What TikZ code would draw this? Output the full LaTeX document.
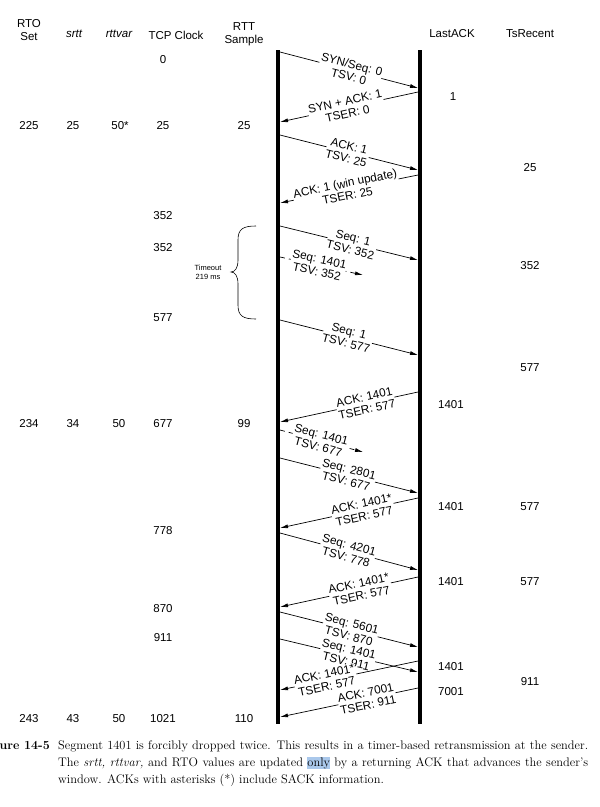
\documentclass[tikz,border=0pt]{standalone}
\usepackage{fontspec}
\newfontfamily\arial{Liberation Sans}
\usetikzlibrary{arrows.meta}
\definecolor{hl}{RGB}{170,200,235}
\begin{document}
\begin{tikzpicture}[x=1pt,y=-1pt,
  every node/.style={inner sep=0pt},
  hdr/.style={font=\arial\fontsize{11.5}{13.5}\selectfont, align=center},
  hdri/.style={font=\arial\itshape\fontsize{11.5}{13.5}\selectfont, align=center},
  num/.style={font=\arial\fontsize{11.5}{13.5}\selectfont},
  lab/.style={font=\arial\fontsize{11.8}{12.6}\selectfont, align=center, fill=white, inner sep=0.6pt, sloped},
  msg/.style={line width=0.7pt, -{Latex[length=8pt,width=4pt]}},
  drop/.style={msg, dash pattern=on 5pt off 4pt},
  vline/.style={line width=4pt},
  capt/.style={font=\fontsize{12.4}{14}\selectfont, anchor=base west},
  small/.style={font=\arial\fontsize{7.5}{9}\selectfont, align=center},
]
\useasboundingbox (0,0) rectangle (600,807);

% headers
\node[hdr]  (hRTO)  at (29,30)  {RTO\\Set};
\node[hdri] (hsrtt) at (74,34)  {srtt};
\node[hdri] (hvar)  at (119,34) {rttvar};
\node[hdr]  (hclk)  at (176,35) {TCP Clock};
\node[hdr]  (hrtt)  at (244,34) {RTT\\Sample};
\node[hdr]  (hlast) at (452,34) {LastACK};
\node[hdr]  (hts)   at (530,34) {TsRecent};

% column values
\foreach \x/\y/\t/\n in {
  29/126/225/rto1, 29/424/234/rto2, 29/719/243/rto3,
  73/126/25/sr1, 73/424/34/sr2, 73/719/43/sr3,
  120/126/50*/rv1, 119/424/50/rv2, 119/719/50/rv3,
  163/60/0/ck1, 163/126/25/ck2, 163/216/352/ck3, 163/248/352/ck4, 163/318/577/ck5,
  163/424/677/ck6, 163/531/778/ck7, 163/609/870/ck8, 163/638/911/ck9, 163/719/1021/ck10,
  244/126/25/rs1, 244/424/99/rs2, 244/719/110/rs3,
  453/97/1/la1, 451/405/1401/la2, 451/507/1401/la3, 451/582/1401/la4, 451/667/1401/la5, 451/692/7001/la6,
  530/168/25/ts1, 530/266/352/ts2, 530/368/577/ts3, 530/507/577/ts4, 530/582/577/ts5, 530/682/911/ts6}
  \node[num] (\n) at (\x,\y) {\t};

% time lines
\coordinate (lt) at (278,50);  \coordinate (lb) at (278,724);
\coordinate (rt) at (420,50);  \coordinate (rb) at (420,724);
\draw[vline] (lt) -- (lb);
\draw[vline] (rt) -- (rb);

% message end points
\coordinate (a1) at (280,52);  \coordinate (b1) at (418,88);
\coordinate (a2) at (418,92);  \coordinate (b2) at (280,122);
\coordinate (a3) at (280,135); \coordinate (b3) at (418,170);
\coordinate (a4) at (418,175); \coordinate (b4) at (280,203);
\coordinate (a5) at (280,226); \coordinate (b5) at (418,260);
\coordinate (a6) at (280,257); \coordinate (b6) at (363,275);
\coordinate (a7) at (280,320); \coordinate (b7) at (418,355);
\coordinate (a8) at (418,392); \coordinate (b8) at (280,422);
\coordinate (a9) at (280,430); \coordinate (b9) at (363,452);
\coordinate (a10) at (280,458); \coordinate (b10) at (418,493);
\coordinate (a11) at (418,498); \coordinate (b11) at (280,528);
\coordinate (a12) at (280,533); \coordinate (b12) at (418,570);
\coordinate (a13) at (418,577); \coordinate (b13) at (280,607);
\coordinate (a14) at (280,612); \coordinate (b14) at (418,647);
\coordinate (a15) at (280,639); \coordinate (b15) at (418,672);
\coordinate (a16) at (418,661); \coordinate (b16) at (280,690);
\coordinate (a17) at (418,688); \coordinate (b17) at (280,717);

% messages
\draw[msg] (a1) -- node[lab,pos=.51] (l1) {SYN/Seq: 0\\TSV: 0} (b1);
\draw[msg] (a2) -- node[lab,pos=.52] (l2) {SYN + ACK: 1\\TSER: 0} (b2);
\draw[msg] (a3) -- node[lab,pos=.49] (l3) {ACK: 1\\TSV: 25} (b3);
\draw[msg] (a4) -- node[lab,pos=.52] (l4) {ACK: 1 (win update)\\TSER: 25} (b4);
\draw[msg] (a5) -- node[lab,pos=.52] (l5) {Seq: 1\\TSV: 352} (b5);
\draw[drop] (a6) -- node[lab,pos=.46] (l6) {Seq: 1401\\TSV: 352} (b6);
\draw[msg] (a7) -- node[lab,pos=.49] (l7) {Seq: 1\\TSV: 577} (b7);
\draw[msg] (a8) -- node[lab,pos=.38] (l8) {ACK: 1401\\TSER: 577} (b8);
\draw[drop] (a9) -- node[lab,pos=.48] (l9) {Seq: 1401\\TSV: 677} (b9);
\draw[msg] (a10) -- node[lab,pos=.49] (l10) {Seq: 2801\\TSV: 677} (b10);
\draw[msg] (a11) -- node[lab,pos=.40] (l11) {ACK: 1401*\\TSER: 577} (b11);
\draw[msg] (a12) -- node[lab,pos=.49] (l12) {Seq: 4201\\TSV: 778} (b12);
\draw[msg] (a13) -- node[lab,pos=.42] (l13) {ACK: 1401*\\TSER: 577} (b13);
\draw[msg] (a14) -- node[lab,pos=.51] (l14) {Seq: 5601\\TSV: 870} (b14);
\draw[msg] (a15) -- node[lab,pos=.49] (l15) {Seq: 1401\\TSV: 911} (b15);
\draw[msg] (a16) -- node[lab,pos=.67] (l16) {ACK: 1401*\\TSER: 577} (b16);
\draw[msg] (a17) -- node[lab,pos=.37] (l17) {ACK: 7001\\TSER: 911} (b17);

% timeout brace
\draw[line width=0.6pt] (256,226) .. controls (243,226) and (238,229) .. (238,240)
  -- (238,260) .. controls (238,268) and (235,272) .. (231,272)
  .. controls (235,272) and (238,276) .. (238,284)
  -- (238,305) .. controls (238,316) and (243,319) .. (256,319);
\node[small] (tmo) at (208,272) {Timeout\\219 ms};

% caption
\node[font=\bfseries\fontsize{12.4}{14}\selectfont, anchor=base east] (fig) at (50,749) {Figure 14-5};
\node[capt] (c1) at (58,749) {\makebox[530pt][s]{Segment 1401 is forcibly dropped twice. This results in a timer-based retransmission at the sender.}};
\node[capt] (c2) at (58,766) {\makebox[530pt][s]{The \textit{srtt,} \textit{rttvar,} and RTO values are updated {\setlength\fboxsep{0pt}\colorbox{hl}{only}} by a returning ACK that advances the sender's}};
\node[capt] (c3) at (58,783) {window. ACKs with asterisks (*) include SACK information.};
\end{tikzpicture}
\end{document}
